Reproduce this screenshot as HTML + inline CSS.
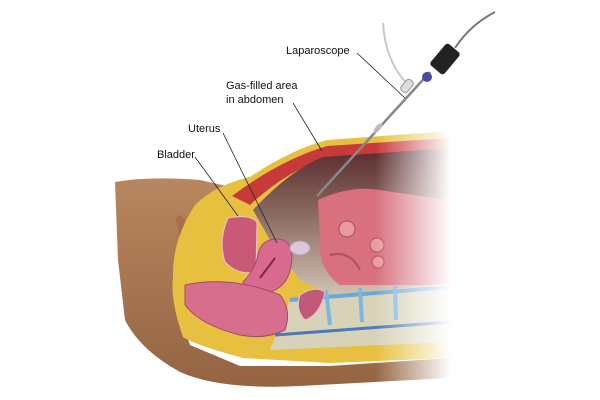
<!DOCTYPE html>
<html><head><style>
html,body{margin:0;padding:0;background:#fff;}
svg{display:block;}
text{font-family:"Liberation Sans",sans-serif;font-size:11px;fill:#111;}
</style></head><body>
<svg width="600" height="400" viewBox="0 0 600 400" xmlns="http://www.w3.org/2000/svg">
<defs>
<linearGradient id="fade" x1="0" x2="1" y1="0" y2="0">
<stop offset="0" stop-color="#fff" stop-opacity="0"/>
<stop offset="1" stop-color="#fff" stop-opacity="1"/>
</linearGradient>
<linearGradient id="skin" x1="0" x2="0" y1="0" y2="1">
<stop offset="0" stop-color="#b8875f"/>
<stop offset="1" stop-color="#946443"/>
</linearGradient>
<linearGradient id="gas" x1="0" x2="0" y1="0" y2="1">
<stop offset="0" stop-color="#5a2a2e"/>
<stop offset="0.45" stop-color="#8a6a60"/>
<stop offset="1" stop-color="#d0c2b2"/>
</linearGradient>
</defs>
<!-- skin / leg -->
<path d="M115 182 Q150 176 200 180 L235 188 L200 215 L180 260 L175 300 L190 345 L240 366 L330 366 L450 358 L450 378 L300 386 Q220 390 180 372 Q140 350 125 320 L118 260 Z" fill="url(#skin)"/>
<path d="M180 215 Q195 230 190 260 L178 262 Q182 235 175 218 Z" fill="#a8604a" opacity="0.6"/>
<!-- fat band outer -->
<path d="M195 205 Q215 185 250 177 Q290 150 327 140 L450 131 L450 358 L330 363 L243 358 Q195 345 183 337 Q170 300 173 277 Q172 240 195 205 Z" fill="#e8c040"/>
<!-- red muscle layer -->
<path d="M232 196 Q280 160 327 146 L450 138 L450 148 L328 157 Q285 172 250 205 Z" fill="#c83a3a"/>
<!-- gas area -->
<path d="M253 210 Q290 170 323 157 L450 148 L450 290 L330 295 L300 280 L270 240 Z" fill="url(#gas)"/>
<!-- intestines -->
<path d="M318 200 Q350 185 380 190 Q410 195 450 200 L450 285 L340 285 Q318 270 320 240 Z" fill="#d8707e"/>
<circle cx="347" cy="229" r="8" fill="#e89aa4" stroke="#b0505e"/>
<circle cx="377" cy="245" r="7" fill="#e89aa4" stroke="#b0505e"/>
<circle cx="378" cy="262" r="6" fill="#e89aa4" stroke="#b0505e"/>
<path d="M330 255 Q350 250 360 270" stroke="#b0505e" fill="none" stroke-width="2"/>
<!-- spine -->
<path d="M290 300 L450 283 L450 342 L270 350 Z" fill="#d8d2b8"/>
<path d="M290 300 L450 287" stroke="#6aa8d8" stroke-width="4"/>
<path d="M275 335 L450 322" stroke="#4a7ab8" stroke-width="3"/>
<path d="M326 290 L330 325 M360 288 L362 322 M395 286 L396 320" stroke="#7ab8e0" stroke-width="4"/>
<!-- bladder -->
<path d="M228 218 Q250 214 257 222 L256 272 Q238 276 225 262 Q218 240 228 218 Z" fill="#c85a78" stroke="#f0c0c8"/>
<!-- uterus -->
<path d="M270 240 Q290 235 292 255 Q292 285 270 292 Q245 292 243 282 Q255 270 258 255 Q260 243 270 240 Z" fill="#d86a90" stroke="#a84a6a"/>
<path d="M260 278 L275 258" stroke="#7a2a4a" stroke-width="2"/>
<ellipse cx="300" cy="248" rx="10" ry="7" fill="#d8c8d8" stroke="#a8a0b8"/>
<!-- rectum -->
<path d="M185 285 Q230 275 280 295 Q292 310 285 330 Q265 340 240 335 Q200 325 185 305 Z" fill="#d86e8e" stroke="#a04a6a"/>
<path d="M300 295 Q315 285 325 292 Q320 315 305 320 Q295 310 300 295 Z" fill="#c05a78" stroke="#f0c0c8"/>
<!-- fade right -->
<rect x="375" y="120" width="76" height="275" fill="url(#fade)"/>
<rect x="450" y="120" width="160" height="280" fill="#fff"/>
<!-- laparoscope -->
<path d="M383 23 Q385 60 407 84" stroke="#c8c8c8" stroke-width="2" fill="none"/>
<path d="M495 12 Q470 25 455 48" stroke="#777" stroke-width="2" fill="none"/>
<line x1="430" y1="72" x2="317" y2="196" stroke="#888" stroke-width="2.5"/>
<rect x="431" y="50" width="28" height="18" rx="3" fill="#222" transform="rotate(-50 445 59)"/>
<circle cx="427" cy="77" r="5" fill="#4a4aa0"/>
<rect x="400" y="82" width="14" height="8" rx="3" fill="#ddd" stroke="#999" transform="rotate(-50 407 86)"/>
<ellipse cx="378" cy="128" rx="2.5" ry="6" fill="#bbb" transform="rotate(40 378 128)"/>
<!-- leaders -->
<g stroke="#222" stroke-width="0.8" fill="none">
<path d="M357 53 L405 98"/>
<path d="M293 103 L322 151"/>
<path d="M223 133 L277 243"/>
<path d="M195 157 L238 216"/>
</g>
<text x="286" y="54">Laparoscope</text>
<text x="226" y="89">Gas-filled area</text>
<text x="226" y="103">in abdomen</text>
<text x="188" y="132">Uterus</text>
<text x="157" y="158">Bladder</text>
</svg>
</body></html>
